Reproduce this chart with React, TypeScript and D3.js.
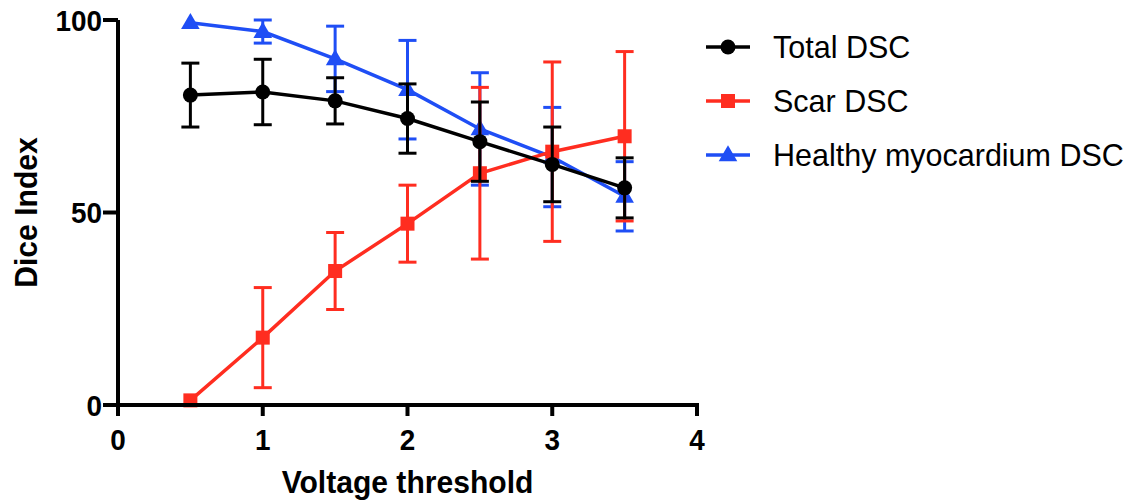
import * as d3 from "d3";

const thresholds = [0.5, 1, 1.5, 2, 2.5, 3, 3.5];

const totalMean = [80.5, 81.3, 79.0, 74.4, 68.4, 62.5, 56.4];
const totalErr = [8.3, 8.5, 6.0, 9.0, 10.3, 9.7, 7.8];

const scarMean = [1.2, 17.5, 34.8, 47.1, 60.2, 65.8, 69.8];
const scarErr = [0, 13.0, 10.0, 10.0, 22.3, 23.3, 22.0];

const healthyMean = [99.3, 97.0, 89.9, 81.9, 71.7, 64.4, 54.2];
const healthyErr = [0, 3.0, 8.5, 12.8, 14.6, 12.9, 9.0];

const xTicks = [0, 1, 2, 3, 4];
const yTicks = [0, 50, 100];

const W = 1139;
const H = 502;
const margin = { left: 118, right: 442, top: 20, bottom: 97 };

type Series = {
  name: string;
  mean: number[];
  err: number[];
  color: string;
  shape: "circle" | "square" | "triangle";
};

const series: Series[] = [
  { name: "Total DSC", mean: totalMean, err: totalErr, color: "#000000", shape: "circle" },
  { name: "Scar DSC", mean: scarMean, err: scarErr, color: "#ff2d20", shape: "square" },
  { name: "Healthy myocardium DSC", mean: healthyMean, err: healthyErr, color: "#1f4ef5", shape: "triangle" },
];

// draw order: healthy below, total on top
const drawOrder = [series[2], series[1], series[0]];

const font = "'Liberation Sans', Arial, Helvetica, sans-serif";

function Marker({ shape, x, y, color }: { shape: string; x: number; y: number; color: string }) {
  if (shape === "circle") return <circle cx={x} cy={y} r={7.5} fill={color} />;
  if (shape === "square") return <rect x={x - 7} y={y - 7} width={14} height={14} fill={color} />;
  const tri = d3.symbol(d3.symbolTriangle, 150)() as string;
  return <path d={tri} transform={`translate(${x},${y + 1})`} fill={color} />;
}

// bold label squeezed a little horizontally, like the original export
function Label(props: {
  x: number;
  y: number;
  size: number;
  sx: number;
  anchor: "start" | "middle" | "end";
  rotate?: number;
  children: React.ReactNode;
}) {
  const rot = props.rotate ? ` rotate(${props.rotate})` : "";
  return (
    <g transform={`translate(${props.x},${props.y})${rot} scale(${props.sx},1)`}>
      <text textAnchor={props.anchor} fontSize={props.size} fontWeight="bold">
        {props.children}
      </text>
    </g>
  );
}

export default function App() {
  const x = d3
    .scaleLinear()
    .domain([0, 4])
    .range([margin.left, W - margin.right]);
  const y = d3
    .scaleLinear()
    .domain([0, 100])
    .range([H - margin.bottom, margin.top]);

  const line = d3
    .line<number>()
    .x((_, i) => x(thresholds[i]))
    .y((d) => y(d));

  const y0 = y(0);

  return (
    <svg
      width={W}
      height={H}
      style={{ position: "absolute", left: 0, top: 0, background: "#fff" }}
      fontFamily={font}
    >
      {/* data */}
      {drawOrder.map((s) => (
        <g key={s.name}>
          {s.mean.map((m, i) => {
            if (!s.err[i]) return null;
            const cx = x(thresholds[i]);
            const top = y(m + s.err[i]);
            const bot = y(m - s.err[i]);
            return (
              <g key={i} stroke={s.color} strokeWidth={3}>
                <line x1={cx} x2={cx} y1={top} y2={bot} />
                <line x1={cx - 9} x2={cx + 9} y1={top} y2={top} />
                <line x1={cx - 9} x2={cx + 9} y1={bot} y2={bot} />
              </g>
            );
          })}
          <path d={line(s.mean) as string} fill="none" stroke={s.color} strokeWidth={3.5} />
          {s.mean.map((m, i) => (
            <Marker key={i} shape={s.shape} x={x(thresholds[i])} y={y(m)} color={s.color} />
          ))}
        </g>
      ))}

      {/* y axis */}
      <line x1={x(0)} x2={x(0)} y1={y(100)} y2={y0 + 11} stroke="#000" strokeWidth={4} />
      {yTicks.map((t) => (
        <g key={t}>
          <line x1={x(0) - 15} x2={x(0)} y1={y(t)} y2={y(t)} stroke="#000" strokeWidth={4} />
          <Label x={x(0) - 16} y={y(t) + 10.5} size={30} sx={0.93} anchor="end">
            {t}
          </Label>
        </g>
      ))}

      {/* x axis */}
      <line x1={x(0) - 2} x2={x(4) + 2} y1={y0} y2={y0} stroke="#000" strokeWidth={4} />
      {xTicks.map((t) => (
        <g key={t}>
          <line x1={x(t)} x2={x(t)} y1={y0} y2={y0 + 11} stroke="#000" strokeWidth={4} />
          <Label x={x(t)} y={y0 + 45} size={30} sx={0.93} anchor="middle">
            {t}
          </Label>
        </g>
      ))}

      {/* axis titles */}
      <Label x={(x(0) + x(4)) / 2} y={493} size={32} sx={0.94} anchor="middle">
        Voltage threshold
      </Label>
      <Label x={37} y={y(50)} size={32} sx={0.94} anchor="middle" rotate={-90}>
        Dice Index
      </Label>

      {/* legend */}
      {series.map((s, i) => {
        const ly = 47 + i * 54;
        return (
          <g key={s.name}>
            <line x1={706} x2={750} y1={ly} y2={ly} stroke={s.color} strokeWidth={3.5} />
            <Marker shape={s.shape} x={728} y={ly} color={s.color} />
            <text x={773} y={ly} dy="0.36em" fontSize={30.5}>
              {s.name}
            </text>
          </g>
        );
      })}
    </svg>
  );
}
